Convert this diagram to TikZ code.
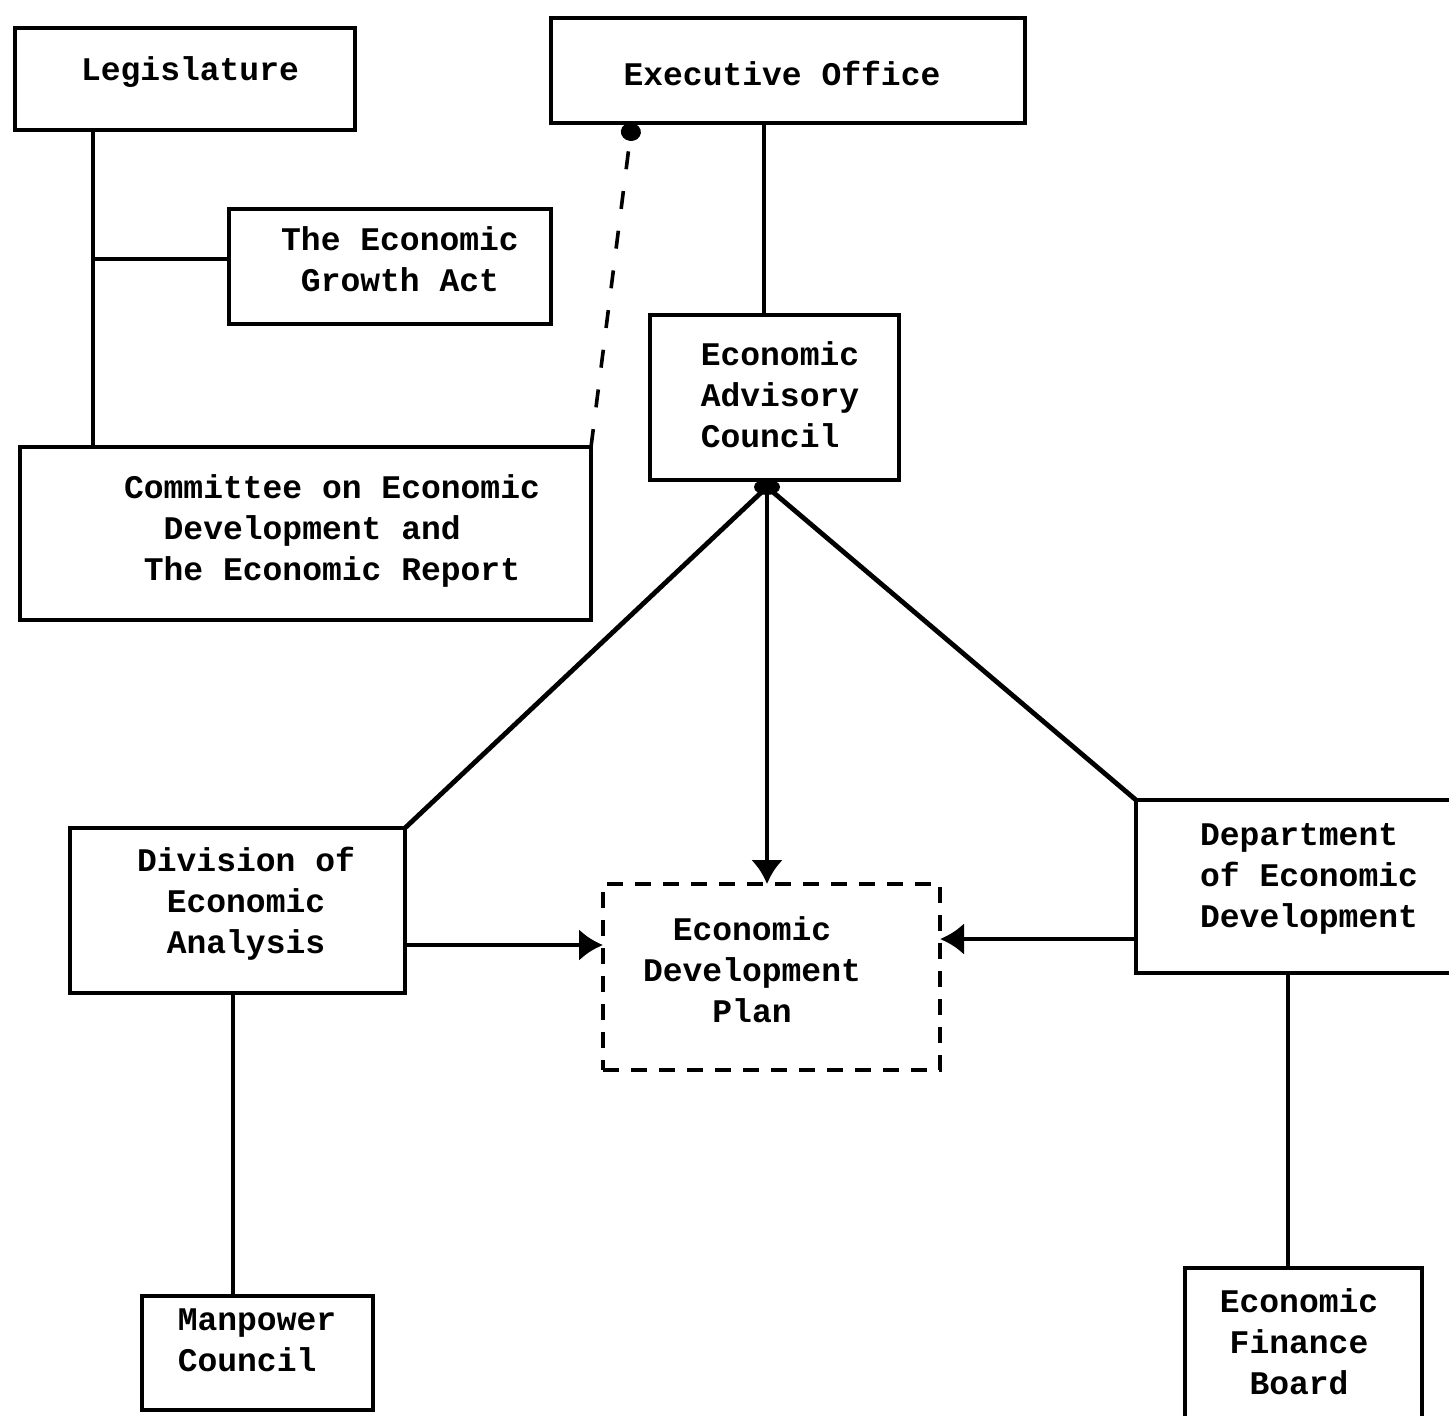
\documentclass[tikz,border=0pt]{standalone}
\usepackage{fontspec}
\newfontfamily\tw{Liberation Mono}
\usetikzlibrary{arrows.meta,calc}
\begin{document}
\begin{tikzpicture}[x=0.5pt,y=-0.5pt,
  box/.style={draw,line width=2.2pt,inner sep=0pt,outer sep=0pt},
  dbox/.style={draw,line width=2.2pt,dash pattern=on 8pt off 6pt,inner sep=0pt,outer sep=0pt},
  txt/.style={font=\tw\bfseries\fontsize{16.5}{20.5}\selectfont,inner sep=0pt},
  conn/.style={line width=2.4pt},
  arr/.style={line width=2.4pt,-{Latex[length=12pt,width=16pt]}},
  dconn/.style={line width=1.8pt,dash pattern=on 9pt off 11pt,-{Circle[length=9pt,width=10pt]}}]
\useasboundingbox (0,0) rectangle (1449,1415);
\clip (0,0) rectangle (1449,1415);
% boxes
\node[box,minimum width=170pt,minimum height=51pt] (leg) at (185,79) {};
\node[txt] (legt) at (190,72) {Legislature};
\node[box,minimum width=237pt,minimum height=52.5pt] (exec) at (788,70.5) {};
\node[txt] (exect) at (782,73) {Executive Office};
\node[box,minimum width=161pt,minimum height=57.5pt] (grow) at (390,266.5) {};
\node[txt,align=center] (growt) at (400,259) {The Economic\\Growth Act};
\node[box,minimum width=285.5pt,minimum height=86.5pt] (comm) at (305.5,533.5) {};
\node[txt,align=left] (commt) at (332,531) {Committee on Economic\\\phantom{XX}Development and\\\phantom{X}The Economic Report};
\node[box,minimum width=124.5pt,minimum height=82.5pt] (eac) at (774.5,397.5) {};
\node[txt,align=left] (eact) at (780,395) {Economic\\Advisory\\Council};
\node[box,minimum width=167.5pt,minimum height=82.5pt] (div) at (237.5,910.5) {};
\node[txt,align=center] (divt) at (246,904) {Division of\\Economic\\Analysis};
\node[dbox,minimum width=168.5pt,minimum height=93pt] (plan) at (771.5,977) {};
\node[txt,align=center] (plant) at (752,970) {Economic\\Development\\Plan};
\node[box,minimum width=158pt,minimum height=86.5pt] (dept) at (1294,886.5) {};
\node[txt,align=left] (deptt) at (1309,879) {Department\\of Economic\\Development};
\node[box,minimum width=115.5pt,minimum height=57pt] (man) at (257.5,1353) {};
\node[txt,align=left] (mant) at (257,1340) {Manpower\\Council};
\node[box,minimum width=118.5pt,minimum height=76pt] (fin) at (1303.5,1344) {};
\node[txt,align=center] (fint) at (1299,1342) {Economic\\Finance\\Board};
% helper coordinates
\coordinate (lx) at (93,0);
\coordinate (gy) at (0,259);
\coordinate (dx) at (632,0);
\coordinate (ex) at (764,0);
\coordinate (hub) at (767,487);
\coordinate (ay) at (0,945);
\coordinate (by) at (0,939);
\coordinate (mx) at (233,0);
\coordinate (fx) at (1288,0);
% connectors
\draw[conn] (lx |- leg.south) -- (lx |- comm.north);
\draw[conn] (lx |- gy) -- (gy -| grow.west);
\draw[dconn] (comm.north east) -- (dx |- exec.south);
\draw[conn] (ex |- exec.south) -- (ex |- eac.north);
\fill (hub) ellipse (13 and 8);
\draw[conn] (hub) -- (div.north east);
\draw[conn] (hub) -- (dept.north west);
\draw[arr] (hub) -- (hub |- plan.north);
\draw[arr] (ay -| div.east) -- (ay -| plan.west);
\draw[arr] (by -| dept.west) -- (by -| plan.east);
\draw[conn] (mx |- div.south) -- (mx |- man.north);
\draw[conn] (fx |- dept.south) -- (fx |- fin.north);
\end{tikzpicture}
\end{document}
